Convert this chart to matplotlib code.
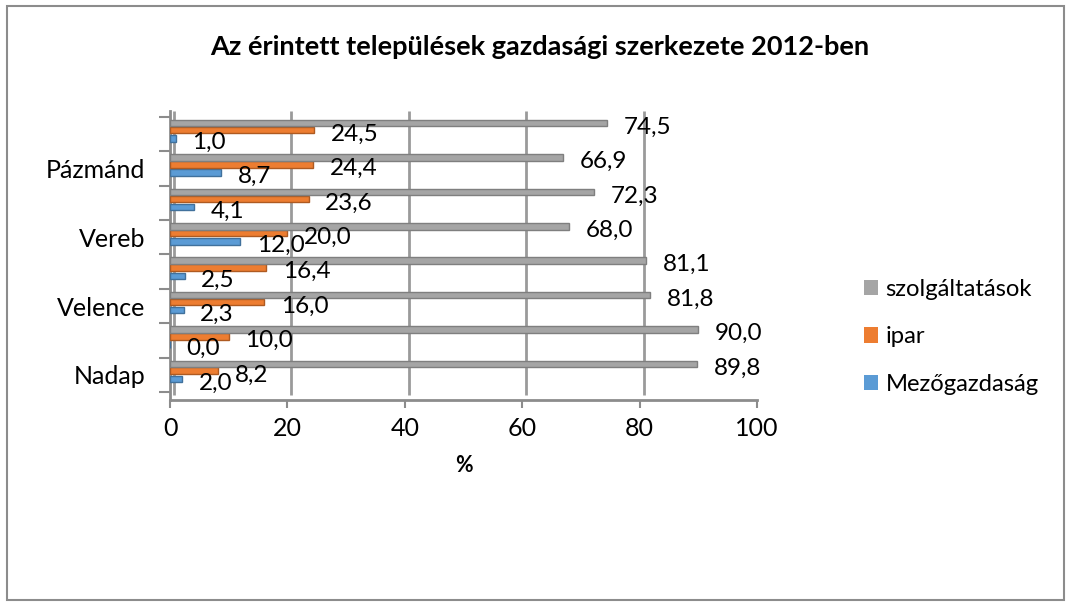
import matplotlib.pyplot as plt
import matplotlib.transforms as mtransforms
import numpy as np

plt.rcParams['font.family'] = ['Lato', 'DejaVu Sans']

# adatok (alulról felfelé)
kategoriak = ['Nadap', '', 'Velence', '', 'Vereb', '', 'Pázmánd', '']
mezogazdasag = [2.0, 0.0, 2.3, 2.5, 12.0, 4.1, 8.7, 1.0]
ipar = [8.2, 10.0, 16.0, 16.4, 20.0, 23.6, 24.4, 24.5]
szolgaltatasok = [89.8, 90.0, 81.8, 81.1, 68.0, 72.3, 66.9, 74.5]

sorozatok = [
    ('Mezőgazdaság', mezogazdasag, '#5B9BD5', '#41719C', -0.12),
    ('ipar', ipar, '#ED7D31', '#AE5A21', 0.12),
    ('szolgáltatások', szolgaltatasok, '#A5A5A5', '#7F7F7F', 0.32),
]

fig = plt.figure(figsize=(10.72, 6.07), dpi=100)
W, H = 1072, 607

# keret a kép körül
fig.patches.append(plt.Rectangle((7 / W, 1 - 600 / H), 1057 / W, 594 / H,
                                 transform=fig.transFigure, fill=False,
                                 edgecolor='#8C8C8C', linewidth=1.5))

ax = fig.add_axes([170 / W, 1 - 400 / H, 587 / W, 289 / H])
y = np.arange(len(kategoriak))

for nev, ertekek, szin, el, eltolas in sorozatok:
    ax.barh(y + eltolas, ertekek, height=0.19, color=szin, edgecolor=el,
            linewidth=1.0, label=nev, zorder=3)
    for yi, v in zip(y, ertekek):
        ax.annotate(f'{v:.1f}'.replace('.', ','), (v, yi + eltolas),
                    xytext=(12, -3), textcoords='offset points',
                    ha='left', va='center', fontsize=17.5, color='black',
                    zorder=5)

ax.set_xlim(0, 100)
ax.set_ylim(-0.733, 7.674)

# rácsvonalak a hátsó falon
racs_tr = mtransforms.offset_copy(ax.transData, fig=fig, x=4, y=0, units='dots')
for xt in [0, 20, 40, 60, 80, 100]:
    ax.plot([xt, xt], [-0.6, 7.674], color='#9A9A9A', linewidth=2.0,
            transform=racs_tr, zorder=1, solid_capstyle='butt')

ax.set_xticks([0, 20, 40, 60, 80, 100])
ax.set_yticks(np.arange(-0.5, 8, 1.0), minor=False)
ax.set_yticklabels([])
ax.set_yticks(y, minor=True)
ax.set_yticklabels(kategoriak, minor=True)
ax.tick_params(axis='y', which='minor', length=0, pad=18, labelsize=18)
ax.tick_params(axis='y', which='major', length=8, width=1.5, color='#8C8C8C')
ax.tick_params(axis='x', length=6, width=1.5, color='#8C8C8C', pad=6,
               labelsize=18)

for s in ['top', 'right']:
    ax.spines[s].set_visible(False)
for s in ['left', 'bottom']:
    ax.spines[s].set_color('#8C8C8C')
    ax.spines[s].set_linewidth(2.0)

ax.set_xlabel('%', fontsize=15.5, fontweight='bold', labelpad=11)

fig.text(540 / W, 1 - 47 / H,
         'Az érintett települések gazdasági szerkezete 2012-ben',
         ha='center', va='center', fontsize=19.5, fontweight='bold')

kez, cim = ax.get_legend_handles_labels()
leg = fig.legend(kez[::-1], cim[::-1], loc='center left',
                 bbox_to_anchor=(864 / W, 1 - 337 / H), frameon=False,
                 fontsize=17.2, handlelength=0.6, handleheight=0.6,
                 handletextpad=0.3, labelspacing=1.1, borderpad=0,
                 borderaxespad=0)
for h in leg.legend_handles:
    h.set_edgecolor('none')

fig.savefig('out.png', dpi=100)
